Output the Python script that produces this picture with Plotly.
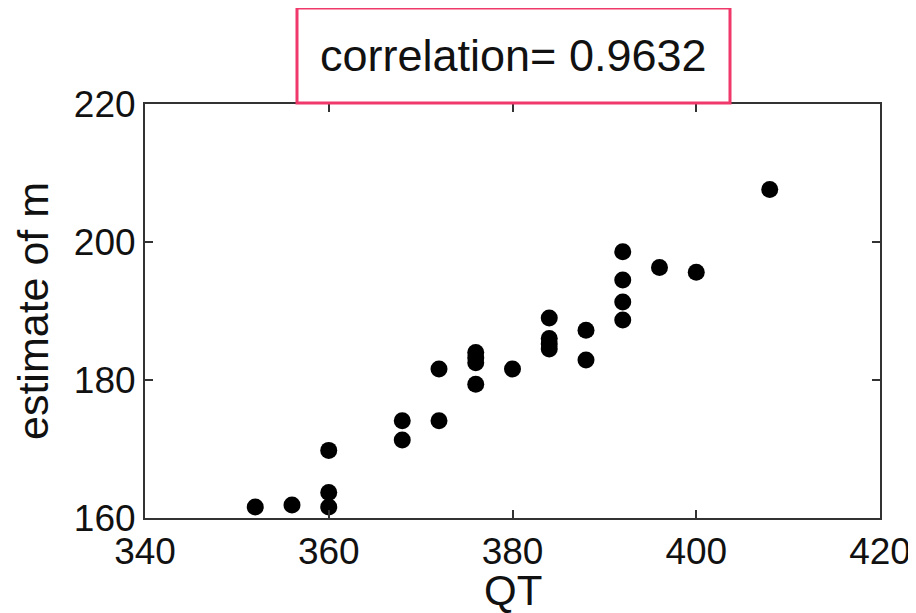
import plotly.graph_objects as go

# Data
qt = [352, 356, 360, 360, 360, 368, 368, 372, 372, 376, 376, 376, 376, 380,
      384, 384, 384, 384, 388, 388, 392, 392, 392, 392, 396, 400, 408]
m_est = [161.6, 161.9, 161.6, 163.7, 169.8, 171.3, 174.1, 174.1, 181.6, 179.4,
         184.0, 183.2, 182.5, 181.6, 189.0, 186.0, 185.2, 184.5, 187.2, 182.9,
         198.6, 194.5, 191.3, 188.7, 196.3, 195.6, 207.6]
x_ticks = [340, 360, 380, 400, 420]
y_ticks = [160, 180, 200, 220]
title_text = "correlation= 0.9632"
x_title = "QT"
y_title = "estimate of m"

FONT = "Liberation Sans, Arial, Helvetica, sans-serif"
OFF = 8  # page body margin offset
W, H = 916, 613
L, T = 145 - OFF, 104 - OFF
PW, PH = 735, 414
R, B = W - L - PW, H - T - PH


def px(xs):
    return (xs - OFF - L) / PW


def py(ys):
    return (T + PH - (ys - OFF)) / PH


fig = go.Figure()
fig.add_trace(go.Scatter(
    x=qt, y=m_est, mode="markers",
    marker=dict(size=17, color="black", line=dict(width=0)),
    showlegend=False, cliponaxis=False,
))

axis_common = dict(
    showline=True, linewidth=2, linecolor="#333333", mirror="ticks",
    ticks="inside", ticklen=8, tickwidth=2, tickcolor="#333333",
    showgrid=False, zeroline=False, automargin=False,
    tickfont=dict(family=FONT, size=37, color="#111111"),
)

fig.update_layout(
    width=W, height=H,
    margin=dict(l=L, r=R, t=T, b=B, autoexpand=False),
    paper_bgcolor="white", plot_bgcolor="white",
    xaxis=dict(range=[340, 420], tickvals=x_ticks, **axis_common),
    yaxis=dict(range=[160, 220], tickvals=y_ticks, **axis_common),
    shapes=[dict(type="rect", xref="paper", yref="paper",
                 x0=px(297), x1=px(730), y0=py(103), y1=py(8),
                 line=dict(color="#f0386b", width=3), fillcolor="rgba(0,0,0,0)")],
    annotations=[
        dict(text=title_text, xref="paper", yref="paper",
             x=px(513), y=py(56), xanchor="center", yanchor="middle", showarrow=False,
             font=dict(family=FONT, size=45, color="#111111")),
        dict(text=x_title, xref="paper", yref="paper",
             x=px(513), y=py(590), xanchor="center", yanchor="middle", showarrow=False,
             font=dict(family=FONT, size=42, color="#111111")),
        dict(text=y_title, xref="paper", yref="paper", textangle=-90,
             x=px(33), y=py(311), xanchor="center", yanchor="middle", showarrow=False,
             font=dict(family=FONT, size=43, color="#111111")),
    ],
)

fig.write_html("out.html")
